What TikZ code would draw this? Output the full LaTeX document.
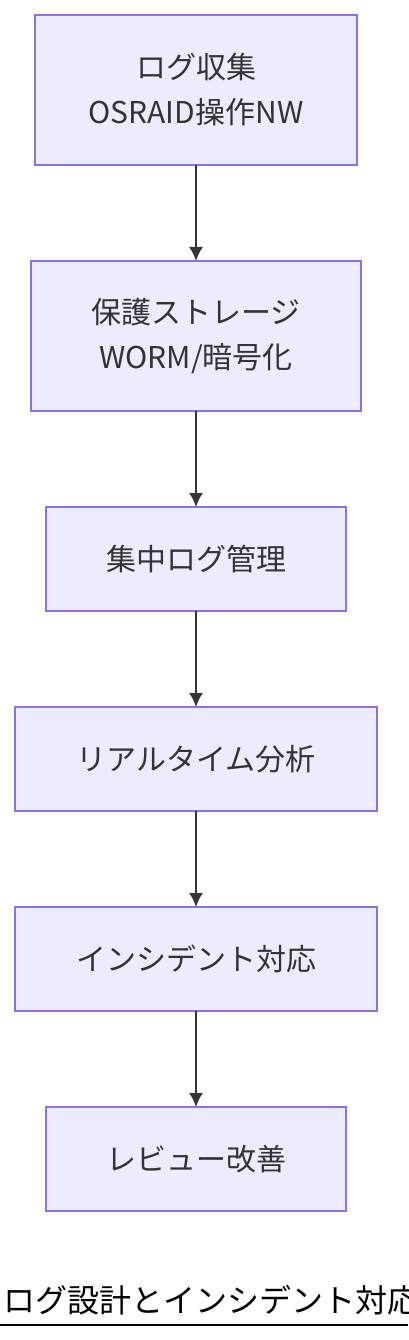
\documentclass[tikz,border=0pt]{standalone}
\usepackage{fontspec}
\usepackage{xcolor}
\usetikzlibrary{positioning, arrows.meta}
\setmainfont{Noto Sans CJK JP}
\definecolor{boxfill}{HTML}{ECECFF}
\definecolor{boxline}{HTML}{9370DB}
\definecolor{textgrey}{HTML}{333333}
\tikzstyle{step box}=[
        draw = boxline,
        line width = 1.3pt,
        fill = boxfill,
        text = textgrey,
        align = center,
        minimum height = 104pt,
        inner sep = 0pt,
        outer sep = 0pt,
        font = \fontsize{30}{45}\selectfont
    ]
\tikzstyle{flow}=[
    draw = textgrey,
    line width = 2pt,
    -{Latex[length=14pt,width=14pt]}
]

\begin{document}
\begin{tikzpicture}[x=1pt, y=-1pt, node distance={96pt}]
        \useasboundingbox (0,0) rectangle (408,1340);
        \node[step box, minimum width = 322pt, minimum height = 150pt, anchor = north] (collect) at (196,15) {ログ収集\\OSRAID操作NW};
        \node[step box, minimum width = 330pt, minimum height = 150pt] (store) [below = of collect] {保護ストレージ\\WORM/暗号化};
        \node[step box, minimum width = 300pt] (central) [below = of store] {集中ログ管理};
        \node[step box, minimum width = 362pt] (analyse) [below = of central] {リアルタイム分析};
        \node[step box, minimum width = 362pt] (incident) [below = of analyse] {インシデント対応};
        \node[step box, minimum width = 300pt] (review) [below = of incident] {レビュー改善};

        \draw[flow] (collect) -- (store);
        \draw[flow] (store) -- (central);
        \draw[flow] (central) -- (analyse);
        \draw[flow] (analyse) -- (incident);
        \draw[flow] (incident) -- (review);

        \node[anchor = base west, inner sep = 0pt, font = \fontsize{32}{32}\selectfont] (title) at (3,1312) {ログ設計とインシデント対応};
        \draw[line width = 2.4pt] (0,1325) -- (408,1325);

    \end{tikzpicture}
\end{document}
